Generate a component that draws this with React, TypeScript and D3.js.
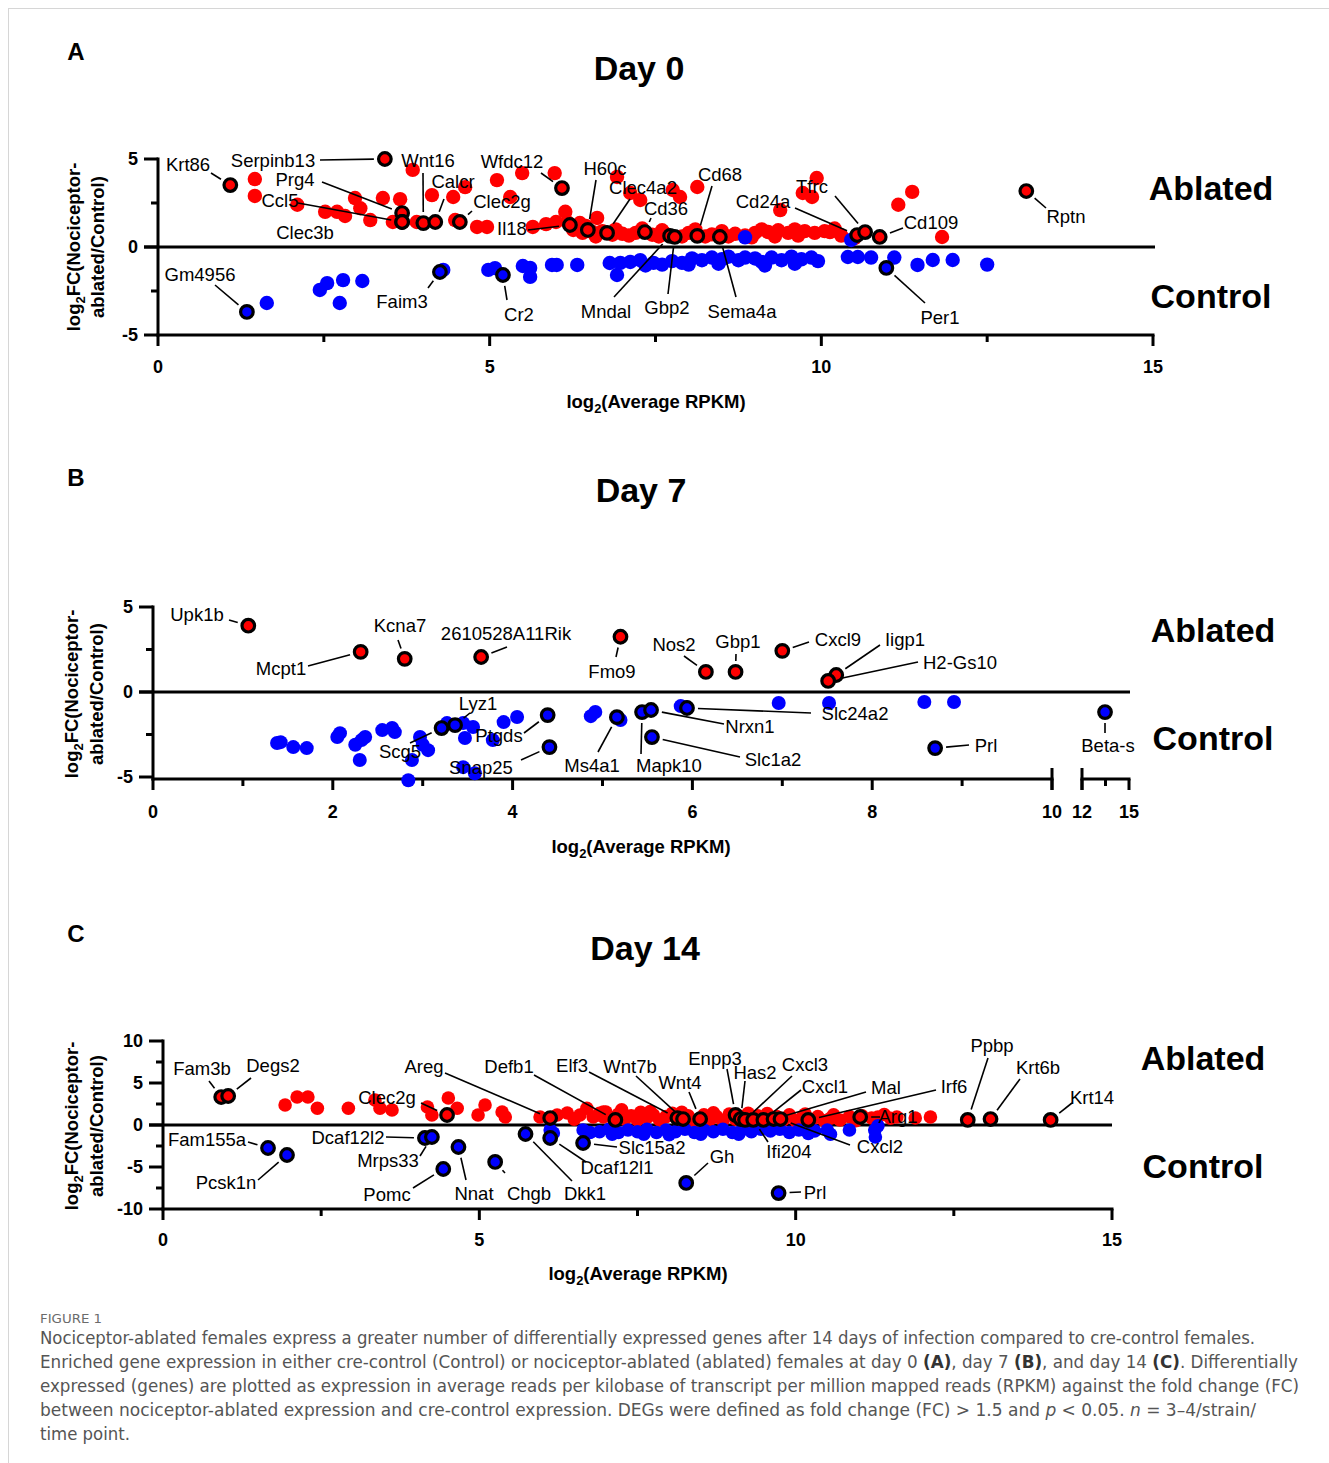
import React, { useEffect, useRef } from "react";
import * as d3 from "d3";

type Pt = [number, number];
type Gene = [string, number, number];

// ---------- Day 0 (panel A) ----------
const day0Ablated: Pt[] = [
  [1.46, 3.86], [1.46, 2.9], [2.1, 2.4], [2.52, 2.0], [2.7, 2.0], [2.82, 1.76], [2.97, 2.78], [3.05, 2.2],
  [3.2, 1.53], [3.39, 2.78], [3.65, 2.72], [3.84, 4.38], [3.54, 1.42], [3.9, 1.42], [4.13, 2.95], [4.45, 2.84],
  [4.63, 3.4], [4.48, 1.53], [4.81, 1.14], [4.96, 1.14], [5.11, 3.8], [5.31, 2.84], [5.49, 4.2], [5.65, 1.14],
  [5.98, 4.2], [6.14, 2.0], [6.0, 1.42], [5.85, 1.3], [6.17, 1.42], [6.36, 1.36], [6.26, 0.97], [6.62, 1.65],
  [6.4, 0.8], [6.45, 1.2], [6.55, 0.85], [6.92, 3.98], [7.12, 3.07], [7.27, 2.67], [7.76, 3.24], [7.87, 2.84],
  [8.13, 3.41], [6.7, 0.9], [6.85, 0.7], [7.0, 0.75], [7.1, 0.65], [7.2, 0.8], [7.45, 0.7], [7.55, 0.6],
  [7.65, 0.75], [7.9, 0.6], [8.0, 0.8], [8.25, 0.6], [8.35, 0.72], [8.6, 0.6], [8.7, 0.75], [8.85, 0.65],
  [9.0, 0.8], [9.1, 1.0], [9.2, 0.85], [9.35, 0.95], [9.5, 0.8], [9.6, 1.0], [9.75, 0.9], [9.9, 0.8],
  [10.05, 0.9], [10.3, 0.65], [9.38, 2.1], [9.72, 3.07], [9.86, 2.84], [9.93, 3.92], [10.13, 0.85],
  [10.5, 0.5], [11.16, 2.4], [11.37, 3.13], [11.82, 0.57],
  [6.6, 0.6], [6.9, 1.0], [7.3, 1.05], [7.6, 0.95], [8.1, 1.0], [8.5, 0.9], [8.95, 0.55], [9.3, 0.6],
  [9.65, 0.65], [10.2, 1.05],
];
const day0Control: Pt[] = [
  [1.64, -3.18], [2.44, -2.44], [2.55, -2.05], [2.79, -1.88], [3.08, -1.93], [2.74, -3.18], [4.3, -1.3],
  [4.98, -1.3], [5.08, -1.2], [5.5, -1.08], [5.61, -1.19], [5.61, -1.7], [5.94, -1.02], [6.01, -1.02],
  [6.32, -1.02], [6.81, -0.91], [6.92, -1.59], [6.97, -0.9], [7.12, -0.85], [7.27, -0.75], [7.47, -0.9],
  [7.6, -1.0], [7.75, -0.8], [7.9, -0.9], [8.05, -0.65], [8.2, -0.75], [8.35, -0.6], [8.5, -0.7],
  [8.6, -0.55], [8.75, -0.75], [8.85, -0.6], [9.0, -0.65], [9.1, -0.85], [9.25, -0.6], [9.4, -0.75],
  [9.55, -0.55], [9.7, -0.7], [9.85, -0.6], [9.95, -0.8], [10.4, -0.57], [10.55, -0.57], [10.75, -0.6],
  [11.1, -0.6], [11.45, -1.02], [11.68, -0.74], [11.98, -0.74], [12.5, -1.0], [8.85, 0.55], [10.45, 0.4],
  [7.35, -1.05], [8.0, -1.0], [8.45, -0.95], [9.15, -1.05], [9.6, -0.95],
];
const day0GenesUp: Gene[] = [
  ["Krt86", 1.09, 3.52], ["Serpinb13", 3.42, 5.0], ["Prg4", 3.68, 1.93], ["Ccl5", 3.68, 1.42],
  ["Clec3b", 3.68, 1.42], ["Wnt16", 4.0, 1.36], ["Calcr", 4.18, 1.42], ["Clec2g", 4.55, 1.42],
  ["Wfdc12", 6.09, 3.35], ["Il18", 6.21, 1.25], ["H60c", 6.48, 0.97], ["Clec4a2", 6.77, 0.8],
  ["Cd36", 7.34, 0.85], ["Mndal", 7.72, 0.63], ["Gbp2", 7.79, 0.57], ["Cd68", 8.13, 0.63],
  ["Sema4a", 8.47, 0.57], ["Cd24a", 10.54, 0.68], ["Tfrc", 10.66, 0.85], ["Cd109", 10.88, 0.57],
  ["Rptn", 13.09, 3.18],
];
const day0GenesDown: Gene[] = [
  ["Gm4956", 1.34, -3.69], ["Faim3", 4.25, -1.42], ["Cr2", 5.2, -1.59], ["Per1", 10.98, -1.19],
];

// ---------- Day 7 (panel B) ----------
const day7Control: Pt[] = [
  [1.38, -3.0], [1.42, -2.95], [1.56, -3.24], [1.71, -3.3], [2.05, -2.65], [2.08, -2.42], [2.25, -3.1],
  [2.32, -2.83], [2.36, -2.65], [2.3, -4.0], [2.55, -2.24], [2.66, -2.12], [2.69, -2.36], [2.97, -2.65],
  [3.0, -3.1], [3.06, -3.42], [2.88, -4.0], [2.84, -5.19], [3.27, -1.83], [3.45, -1.83], [3.56, -2.06],
  [3.47, -2.71], [3.78, -2.83], [3.9, -1.77], [4.05, -1.47], [3.45, -4.42], [3.58, -4.78], [4.87, -1.42],
  [4.92, -1.18], [5.2, -1.65], [5.87, -0.83], [5.93, -0.89], [6.96, -0.65], [7.52, -0.65], [8.58, -0.59],
  [8.91, -0.59],
];
const day7GenesUp: Gene[] = [
  ["Upk1b", 1.06, 3.9], ["Mcpt1", 2.31, 2.36], ["Kcna7", 2.8, 1.95], ["2610528A11Rik", 3.65, 2.06],
  ["Fmo9", 5.2, 3.25], ["Nos2", 6.15, 1.18], ["Gbp1", 6.48, 1.18], ["Cxcl9", 7.0, 2.42],
  ["Iigp1", 7.6, 1.0], ["H2-Gs10", 7.51, 0.65],
];
const day7GenesDown: Gene[] = [
  ["Lyz1", 3.36, -1.95], ["Scg5", 3.21, -2.12], ["Ptgds", 4.39, -1.36], ["Snap25", 4.41, -3.24],
  ["Ms4a1", 5.16, -1.48], ["Mapk10", 5.44, -1.18], ["Nrxn1", 5.54, -1.06], ["Slc1a2", 5.55, -2.65],
  ["Slc24a2", 5.94, -0.94], ["Prl", 8.7, -3.3], ["Beta-s", 13.47, -1.18],
];

// ---------- Day 14 (panel C) ----------
const day14Ablated: Pt[] = [
  [1.93, 2.38], [2.12, 3.33], [2.29, 3.33], [2.44, 2.0], [2.93, 2.0], [3.35, 2.98], [3.43, 2.0], [3.62, 1.79],
  [4.18, 2.14], [4.25, 1.19], [4.51, 3.21], [4.65, 2.0], [4.98, 1.19], [5.09, 2.38], [5.36, 1.55], [5.41, 0.95],
  [5.96, 0.95], [6.23, 1.19], [6.39, 1.43], [6.59, 1.19], [6.8, 0.95], [6.96, 0.95], [6.5, 0.7], [6.7, 2.0],
  [6.96, 1.55], [6.9, 1.4], [7.0, 1.55], [7.1, 0.9], [7.2, 1.3], [7.3, 0.7], [7.4, 1.1], [7.5, 0.6],
  [7.55, 1.5], [7.65, 0.9], [7.75, 1.2], [7.85, 0.6], [7.95, 1.0], [8.05, 1.4], [8.15, 0.6], [8.3, 1.1],
  [8.4, 0.5], [8.55, 1.2], [8.65, 0.7], [8.75, 1.0], [8.85, 0.5], [8.95, 1.3], [9.05, 0.7], [9.15, 1.0],
  [9.3, 0.5], [9.4, 1.1], [9.5, 0.8], [9.6, 0.5], [9.7, 1.0], [9.8, 0.6], [9.9, 1.2], [10.0, 0.5],
  [10.1, 0.9], [10.25, 0.6], [10.35, 1.0], [10.45, 0.5], [10.55, 0.8], [10.7, 0.6], [10.85, 1.0],
  [10.95, 0.5], [11.2, 0.83], [11.3, 0.95], [11.5, 0.8], [11.6, 0.95], [11.89, 0.83], [12.13, 0.95],
  [7.25, 1.8], [7.7, 1.6], [8.2, 1.5], [8.7, 1.45], [9.25, 1.4], [9.55, 1.35], [10.15, 1.3], [10.6, 1.2],
  [11.05, 1.1], [11.4, 1.25],
];
const day14Control: Pt[] = [
  [6.12, -0.6], [6.17, -0.95], [6.64, -0.6], [6.9, -0.8], [7.05, -0.5], [7.2, -0.9], [7.35, -0.6], [7.5, -0.8],
  [7.65, -0.5], [7.8, -0.9], [7.95, -0.6], [8.1, -0.8], [8.25, -0.5], [8.4, -0.9], [8.55, -0.6], [8.7, -0.8],
  [8.85, -0.5], [9.0, -0.9], [9.15, -0.6], [9.3, -0.8], [9.45, -0.5], [9.6, -0.7], [9.75, -0.5], [10.05, -0.6],
  [10.3, -0.7], [10.5, -0.6], [10.55, -1.1], [10.85, -0.6], [11.25, -0.6], [11.26, -1.43], [11.3, -0.1],
  [6.75, -0.9], [7.1, -1.1], [7.6, -1.1], [8.0, -1.15], [8.5, -1.1], [9.1, -1.1], [9.9, -0.9], [10.2, -1.0],
];
const day14GenesUp: Gene[] = [
  ["Fam3b", 0.92, 3.33], ["Degs2", 1.03, 3.45], ["Clec2g", 4.49, 1.19], ["Areg", 6.12, 0.83],
  ["Defb1", 7.15, 0.6], ["Elf3", 8.13, 0.83], ["Wnt7b", 8.22, 0.71], ["Wnt4", 8.49, 0.71],
  ["Enpp3", 9.05, 1.19], ["Has2", 9.13, 0.71], ["Cxcl3", 9.2, 0.6], ["Ifi204", 9.33, 0.6],
  ["Cxcl1", 9.49, 0.6], ["Mal", 9.65, 0.71], ["Cxcl2", 9.76, 0.71], ["Irf6", 10.2, 0.6],
  ["Arg1", 11.02, 0.95], ["Ppbp", 12.72, 0.6], ["Krt6b", 13.08, 0.71], ["Krt14", 14.03, 0.6],
];
const day14GenesDown: Gene[] = [
  ["Fam155a", 1.66, -2.74], ["Pcsk1n", 1.96, -3.57], ["Dcaf12l2", 4.14, -1.55], ["Mrps33", 4.25, -1.43],
  ["Pomc", 4.43, -5.24], ["Nnat", 4.67, -2.62], ["Chgb", 5.25, -4.4], ["Dkk1", 5.73, -1.07],
  ["Dcaf12l1", 6.12, -1.55], ["Slc15a2", 6.64, -2.14], ["Gh", 8.27, -6.9], ["Prl", 9.73, -8.1],
];

// label placement in page px: [text centre x, text centre y, leader start x, leader start y]
const day0Labels: Record<string, (number | null)[]> = {
  Krt86: [188, 164, 211, 173], Serpinb13: [273, 160, 320, 160], Wnt16: [428, 160, 423, 173],
  Prg4: [295, 179, 322, 182], Ccl5: [280, 200, 298, 203], Clec3b: [305, 232, null, null],
  Calcr: [453, 181, 444, 199], Clec2g: [502, 201, 472, 211], Wfdc12: [512, 161, 541, 173],
  Il18: [512, 228, 528, 230], H60c: [605, 168, 596, 180], Clec4a2: [643, 187, 630, 199],
  Cd36: [666, 208, 651, 218], Cd68: [720, 174, 712, 186], Mndal: [606, 311, 614, 297],
  Gbp2: [667, 307, 668, 294], Sema4a: [742, 311, 736, 297], Cd24a: [763, 201, 795, 208],
  Tfrc: [812, 186, 835, 196], Cd109: [931, 222, 903, 228], Rptn: [1066, 216, 1046, 208],
  Gm4956: [200, 274, 215, 285], Faim3: [402, 301, 428, 288], Cr2: [519, 314, 507, 300],
  Per1: [940, 317, 925, 303],
};
const day7Labels: Record<string, (number | null)[]> = {
  Upk1b: [197, 614, 229, 620], Mcpt1: [281, 668, 308, 666], Kcna7: [400, 625, 398, 640],
  "2610528A11Rik": [506, 633, 507, 647], Fmo9: [612, 671, 616, 657], Nos2: [674, 644, 684, 656],
  Gbp1: [738, 641, 736, 654], Cxcl9: [838, 639, 809, 642], Iigp1: [905, 639, 880, 645],
  "H2-Gs10": [960, 662, 918, 662], Lyz1: [478, 703, 470, 713], Scg5: [400, 751, 410, 743],
  Ptgds: [499, 735, 524, 733], Snap25: [481, 767, 521, 760], Ms4a1: [592, 765, 598, 752],
  Mapk10: [669, 765, 641, 754], Nrxn1: [750, 726, 724, 724], Slc1a2: [773, 759, 740, 757],
  Slc24a2: [855, 713, 811, 713], Prl: [986, 745, 969, 745], "Beta-s": [1108, 745, 1105, 733],
};
const day14Labels: Record<string, (number | null)[]> = {
  Fam3b: [202, 1068, 209, 1081], Degs2: [273, 1065, 251, 1078], Areg: [424, 1066, 445, 1073],
  Clec2g: [387, 1097, 421, 1103], Defb1: [509, 1066, 534, 1075], Elf3: [572, 1065, 589, 1072],
  Wnt7b: [630, 1066, 636, 1076], Wnt4: [680, 1082, 689, 1092], Enpp3: [715, 1058, 727, 1069],
  Has2: [755, 1072, 745, 1081], Cxcl3: [805, 1064, 792, 1076], Cxcl1: [825, 1086, 801, 1090],
  Mal: [886, 1087, 866, 1092], Irf6: [954, 1086, 936, 1090], Arg1: [898, 1116, 880, 1117],
  Ppbp: [992, 1045, 988, 1058], Krt6b: [1038, 1067, 1020, 1079], Krt14: [1092, 1097, 1072, 1103],
  Ifi204: [789, 1151, 768, 1142], Cxcl2: [880, 1146, 850, 1145], Fam155a: [207, 1139, 248, 1142],
  Pcsk1n: [226, 1182, 258, 1180], Dcaf12l2: [348, 1137, 386, 1137], Mrps33: [388, 1160, 420, 1156],
  Pomc: [387, 1194, 413, 1188], Nnat: [474, 1193, 466, 1180], Chgb: [529, 1193, 505, 1173],
  Dkk1: [585, 1193, 572, 1181], Dcaf12l1: [617, 1167, 586, 1162], Slc15a2: [652, 1147, 617, 1147],
  Gh: [722, 1156, 708, 1163], Prl: [815, 1192, 801, 1192],
};

// tick values
const ticksAx = [0, 2.5, 5, 7.5, 10, 12.5, 15];
const labelsAx = [0, 5, 10, 15];
const ticksAy = [-5, -2.5, 0, 2.5, 5];
const labelsAy = [-5, 0, 5];
const ticksBx = [0, 1, 2, 3, 4, 5, 6, 7, 8, 9, 10, 12, 13.5, 15];
const labelsBx = [0, 2, 4, 6, 8, 10, 12, 15];
const ticksCy = [-10, -7.5, -5, -2.5, 0, 2.5, 5, 7.5, 10];
const labelsCy = [-10, -5, 0, 5, 10];

const captionLines: [string, string][][] = [
  [["Nociceptor-ablated females express a greater number of differentially expressed genes after 14 days of infection compared to cre-control females.", ""]],
  [["Enriched gene expression in either cre-control (Control) or nociceptor-ablated (ablated) females at day 0 ", ""], ["(A)", "b"], [", day 7 ", ""], ["(B)", "b"], [", and day 14 ", ""], ["(C)", "b"], [". Differentially", ""]],
  [["expressed (genes) are plotted as expression in average reads per kilobase of transcript per million mapped reads (RPKM) against the fold change (FC)", ""]],
  [["between nociceptor-ablated expression and cre-control expression. DEGs were defined as fold change (FC) > 1.5 and ", ""], ["p", "i"], [" < 0.05. ", ""], ["n", "i"], [" = 3–4/strain/", ""]],
  [["time point.", ""]],
];
const captionWidths = [1215, 1258, 1259, 1216, 90];

const RED = "#ff0000";
const BLUE = "#0000ff";
const FONT = "'Liberation Sans', Arial, Helvetica, sans-serif";

function drawPanel(svg: any, p: any) {
  const g = svg.append("g");
  const { x, y } = p;
  const ax = g.append("g").attr("stroke", "#000").attr("stroke-width", 3).attr("fill", "none");

  // y axis
  ax.append("line").attr("x1", p.left).attr("x2", p.left).attr("y1", p.top - 1.5).attr("y2", p.bottom + 1.5);
  p.yTicks.forEach((v: number) => {
    const major = p.yLabels.includes(v);
    ax.append("line").attr("x1", p.left - (major ? 14 : 7)).attr("x2", p.left).attr("y1", y(v)).attr("y2", y(v));
  });
  g.selectAll(null).data(p.yLabels).join("text")
    .attr("x", p.left - 20).attr("y", (d: number) => y(d)).attr("dy", "0.36em")
    .attr("text-anchor", "end").attr("font-family", FONT).attr("font-weight", "bold").attr("font-size", 18)
    .text((d: number) => String(d));

  // zero line
  ax.append("line").attr("x1", p.left - 14).attr("x2", p.zeroEnd).attr("y1", y(0)).attr("y2", y(0));

  // x axis (possibly broken)
  p.segments.forEach((s: number[]) => {
    ax.append("line").attr("x1", x(s[0]) - 1.5).attr("x2", x(s[1]) + 1.5).attr("y1", p.bottom).attr("y2", p.bottom);
  });
  p.xTicks.forEach((v: number) => {
    const major = p.xLabels.includes(v);
    ax.append("line").attr("x1", x(v)).attr("x2", x(v)).attr("y1", p.bottom).attr("y2", p.bottom + (major ? 11 : 7));
  });
  (p.breaks || []).forEach((v: number) => {
    ax.append("line").attr("x1", x(v)).attr("x2", x(v)).attr("y1", p.bottom - 11).attr("y2", p.bottom + 11);
  });
  g.selectAll(null).data(p.xLabels).join("text")
    .attr("x", (d: number) => x(d)).attr("y", p.bottom + p.xLabelGap).attr("dy", "0.36em")
    .attr("text-anchor", "middle").attr("font-family", FONT).attr("font-weight", "bold").attr("font-size", 18)
    .text((d: number) => String(d));

  // axis titles
  const xt = g.append("text").attr("x", p.xTitle[0]).attr("y", p.xTitle[1]).attr("dy", "0.36em")
    .attr("text-anchor", "middle").attr("font-family", FONT).attr("font-weight", "bold").attr("font-size", 18.5);
  xt.append("tspan").text("log");
  xt.append("tspan").attr("font-size", 13).attr("dy", 5).text("2");
  xt.append("tspan").attr("dy", -5).text("(Average RPKM)");

  const yt = g.append("g").attr("transform", `translate(${p.yTitle[0]},${p.yTitle[2]}) rotate(-90)`)
    .attr("font-family", FONT).attr("font-weight", "bold").attr("font-size", 18.5);
  const l1 = yt.append("text").attr("x", 0).attr("y", 0).attr("dy", "0.36em").attr("text-anchor", "middle");
  l1.append("tspan").text("log");
  l1.append("tspan").attr("font-size", 13).attr("dy", 5).text("2");
  l1.append("tspan").attr("dy", -5).text("FC(Nociceptor-");
  yt.append("text").attr("x", 0).attr("y", p.yTitle[1] - p.yTitle[0]).attr("dy", "0.36em")
    .attr("text-anchor", "middle").text("ablated/Control)");

  // title, letter, group labels
  g.append("text").attr("x", p.title[1]).attr("y", p.title[2]).attr("dy", "0.36em").attr("text-anchor", "middle")
    .attr("font-family", FONT).attr("font-weight", "bold").attr("font-size", 34).text(p.title[0]);
  g.append("text").attr("x", 76).attr("y", p.letter[1]).attr("dy", "0.36em").attr("text-anchor", "middle")
    .attr("font-family", FONT).attr("font-weight", "bold").attr("font-size", 24).text(p.letter[0]);
  g.append("text").attr("x", p.groupX).attr("y", p.groupY[0]).attr("dy", "0.36em").attr("text-anchor", "middle")
    .attr("font-family", FONT).attr("font-weight", "bold").attr("font-size", 34).text("Ablated");
  g.append("text").attr("x", p.groupX).attr("y", p.groupY[1]).attr("dy", "0.36em").attr("text-anchor", "middle")
    .attr("font-family", FONT).attr("font-weight", "bold").attr("font-size", 34).text("Control");

  // plain points
  g.append("g").selectAll("circle").data(p.ablated).join("circle")
    .attr("cx", (d: Pt) => x(d[0])).attr("cy", (d: Pt) => y(d[1])).attr("r", p.r).attr("fill", RED);
  g.append("g").selectAll("circle").data(p.control).join("circle")
    .attr("cx", (d: Pt) => x(d[0])).attr("cy", (d: Pt) => y(d[1])).attr("r", p.r).attr("fill", BLUE);

  const genes = [
    ...p.up.map((d: Gene) => ({ name: d[0], px: x(d[1]), py: y(d[2]), color: RED })),
    ...p.down.map((d: Gene) => ({ name: d[0], px: x(d[1]), py: y(d[2]), color: BLUE })),
  ];

  // leader lines
  genes.forEach((d: any) => {
    const lab = p.labels[d.name];
    if (!lab || lab[2] == null) return;
    const sx = lab[2] as number, sy = lab[3] as number;
    const dx = d.px - sx, dy = d.py - sy;
    const len = Math.sqrt(dx * dx + dy * dy);
    const k = len > 11 ? (len - 11) / len : 0;
    g.append("line").attr("x1", sx).attr("y1", sy).attr("x2", sx + dx * k).attr("y2", sy + dy * k)
      .attr("stroke", "#000").attr("stroke-width", 1.6);
  });

  // highlighted points
  g.append("g").selectAll("circle").data(genes).join("circle")
    .attr("cx", (d: any) => d.px).attr("cy", (d: any) => d.py).attr("r", 6.3)
    .attr("fill", (d: any) => d.color).attr("stroke", "#000").attr("stroke-width", 3.2);

  // gene labels
  g.append("g").selectAll("text").data(genes.filter((d: any) => p.labels[d.name])).join("text")
    .attr("x", (d: any) => p.labels[d.name][0]).attr("y", (d: any) => p.labels[d.name][1]).attr("dy", "0.36em")
    .attr("text-anchor", "middle").attr("font-family", FONT).attr("font-size", 18.5).attr("fill", "#000")
    .text((d: any) => d.name);
}

export default function App() {
  const ref = useRef<SVGSVGElement>(null);

  useEffect(() => {
    const svg = d3.select(ref.current);
    svg.selectAll("*").remove();

    // frame
    svg.append("line").attr("x1", 8).attr("x2", 1329).attr("y1", 8.5).attr("y2", 8.5).attr("stroke", "#d6d6d6");
    svg.append("line").attr("x1", 8.5).attr("x2", 8.5).attr("y1", 8).attr("y2", 1463).attr("stroke", "#d6d6d6");

    // Panel A
    const xA = d3.scaleLinear().domain([0, 15]).range([158, 1153]);
    const yA = d3.scaleLinear().domain([-5, 5]).range([335, 159]);
    drawPanel(svg, {
      x: xA, y: yA, left: 158, top: 159, bottom: 335, zeroEnd: 1155, r: 7.2,
      yTicks: ticksAy, yLabels: labelsAy, xTicks: ticksAx, xLabels: labelsAx, segments: [[0, 15]],
      xLabelGap: 32, xTitle: [656, 401], yTitle: [73, 97, 247], title: ["Day 0", 639, 68], letter: ["A", 51],
      groupX: 1211, groupY: [188, 296],
      ablated: day0Ablated, control: day0Control, up: day0GenesUp, down: day0GenesDown, labels: day0Labels,
    });

    // Panel B (broken x axis)
    const xB1 = d3.scaleLinear().domain([0, 10]).range([153, 1052]);
    const xB2 = d3.scaleLinear().domain([12, 15]).range([1082, 1129]);
    const xB = (v: number) => (v <= 11 ? xB1(v) : xB2(v));
    const yB = d3.scaleLinear().domain([-5, 5]).range([777, 607]);
    drawPanel(svg, {
      x: xB, y: yB, left: 153, top: 607, bottom: 779, zeroEnd: 1130, r: 7,
      yTicks: ticksAy, yLabels: labelsAy, xTicks: ticksBx, xLabels: labelsBx, segments: [[0, 10], [12, 15]],
      breaks: [10, 12],
      xLabelGap: 33, xTitle: [641, 846], yTitle: [71, 96, 694], title: ["Day 7", 641, 490], letter: ["B", 477],
      groupX: 1213, groupY: [630, 738],
      ablated: [], control: day7Control, up: day7GenesUp, down: day7GenesDown, labels: day7Labels,
    });

    // Panel C
    const xC = d3.scaleLinear().domain([0, 15]).range([163, 1112]);
    const yC = d3.scaleLinear().domain([-10, 10]).range([1209, 1041]);
    drawPanel(svg, {
      x: xC, y: yC, left: 163, top: 1041, bottom: 1209, zeroEnd: 1112, r: 6.8,
      yTicks: ticksCy, yLabels: labelsCy, xTicks: ticksAx, xLabels: labelsAx, segments: [[0, 15]],
      xLabelGap: 31, xTitle: [638, 1273], yTitle: [71, 96, 1126], title: ["Day 14", 645, 948], letter: ["C", 933],
      groupX: 1203, groupY: [1058, 1166],
      ablated: day14Ablated, control: day14Control, up: day14GenesUp, down: day14GenesDown, labels: day14Labels,
    });

    // caption
    const CAP = "'Liberation Sans Narrow', 'DejaVu Sans Condensed', 'Liberation Sans', sans-serif";
    svg.append("text").attr("x", 40).attr("y", 1323).attr("font-family", CAP).attr("font-size", 13)
      .attr("fill", "#6b6b6b").attr("textLength", 62).attr("lengthAdjust", "spacingAndGlyphs").text("FIGURE 1");
    captionLines.forEach((line, i) => {
      const t = svg.append("text").attr("x", 40).attr("y", 1344 + i * 24).attr("font-family", CAP)
        .attr("font-size", 17).attr("fill", "#555")
        .attr("textLength", captionWidths[i]).attr("lengthAdjust", "spacingAndGlyphs");
      line.forEach(([s, st]) => {
        const ts = t.append("tspan").text(s);
        if (st === "b") ts.attr("font-weight", "bold").attr("fill", "#333");
        if (st === "i") ts.attr("font-style", "italic");
      });
    });
  }, []);

  return (
    <svg
      ref={ref}
      width={1329}
      height={1463}
      style={{ position: "absolute", left: 0, top: 0, background: "#fff" }}
    />
  );
}
